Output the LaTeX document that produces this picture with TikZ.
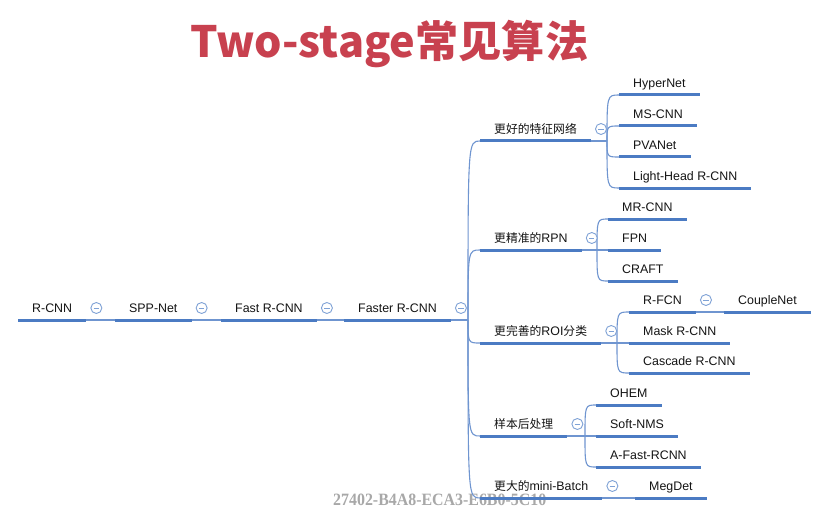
\documentclass[tikz,border=0pt]{standalone}
\usepackage{fontspec}
\setmainfont{Liberation Sans}
\newfontfamily\cjk{Noto Sans CJK SC}
\newfontfamily\wmfont{Liberation Serif}
\newcommand\zh[1]{{\cjk\fontsize{11.8}{14}\selectfont #1}}
\usetikzlibrary{calc}
\definecolor{barblue}{HTML}{4B7BC3}
\definecolor{linkblue}{HTML}{6F95D0}
\definecolor{btnblue}{HTML}{7FA2D6}
\definecolor{labeltext}{HTML}{141414}
\definecolor{titlered}{HTML}{C8414F}
\definecolor{wmgray}{HTML}{A8A8A8}
\begin{document}
\begin{tikzpicture}[x=1pt,y=-1pt,
  lbl/.style={anchor=south west, inner xsep=14pt, inner ysep=7.5pt, text height=9pt, text depth=0pt,
    font=\fontsize{12.4}{14}\selectfont, text=labeltext},
  bar/.style={draw=barblue, line width=3pt},
  link/.style={draw=linkblue, line width=1.1pt},
  btn/.style={circle, draw=btnblue, fill=white, line width=0.9pt, minimum size=11pt, inner sep=0pt,
    path picture={\draw[btnblue, line width=0.9pt] ([xshift=-2.7pt]path picture bounding box.center) -- ([xshift=2.7pt]path picture bounding box.center);}}]
\useasboundingbox (0,0) rectangle (822,508);
\fill[white] (0,0) rectangle (822,508);

% title
\node[anchor=base west, inner sep=0pt, text=titlered] (title) at (190,58)
  {\resizebox{398pt}{!}{\cjk\bfseries Two-stage常见算法}};

% watermark
\node[anchor=base west, inner sep=0pt, text=wmgray] (wm) at (333,505.5)
  {\resizebox{213pt}{11.5pt}{\wmfont\bfseries 27402-B4A8-ECA3-E6B0-5C10}};

% level 0
\node[lbl] (rcnn)   at (18,320)  {R-CNN};
\node[lbl] (spp)    at (115,320) {SPP-Net};
\node[lbl] (fast)   at (221,320) {Fast R-CNN};
\node[lbl] (faster) at (344,320) {Faster R-CNN};

% level 1
\node[lbl] (feat)  at (480,141) {\zh{更好的特征网络}};
\node[lbl] (rpn)   at (480,250) {\zh{更精准的}RPN};
\node[lbl] (roi)   at (480,343) {\zh{更完善的}ROI\zh{分类}};
\node[lbl] (post)  at (480,436) {\zh{样本后处理}};
\node[lbl] (batch) at (480,498) {\zh{更大的}mini-Batch};

% level 2
\node[lbl] (hyper)   at (619,95)  {HyperNet};
\node[lbl] (mscnn)   at (619,126) {MS-CNN};
\node[lbl] (pva)     at (619,157) {PVANet};
\node[lbl] (light)   at (619,188) {Light-Head R-CNN};
\node[lbl] (mrcnn)   at (608,219) {MR-CNN};
\node[lbl] (fpn)     at (608,250) {FPN};
\node[lbl] (craft)   at (608,281) {CRAFT};
\node[lbl] (rfcn)    at (629,312) {R-FCN};
\node[lbl] (mask)    at (629,343) {Mask R-CNN};
\node[lbl] (cascade) at (629,373) {Cascade R-CNN};
\node[lbl] (ohem)    at (596,405) {OHEM};
\node[lbl] (soft)    at (596,436) {Soft-NMS};
\node[lbl] (afast)   at (596,467) {A-Fast-RCNN};
\node[lbl] (megdet)  at (635,498) {MegDet};
\node[lbl] (couple)  at (724,312) {CoupleNet};

% fork points
\coordinate (f-faster) at (468,320);
\coordinate (f-feat)   at (607,141);
\coordinate (f-rpn)    at (597,250);
\coordinate (f-roi)    at (617,343);
\coordinate (f-post)   at (585,436);

% straight links
\draw[link] (rcnn.south east) -- (spp.south west);
\draw[link] (spp.south east) -- (fast.south west);
\draw[link] (fast.south east) -- (faster.south west);
\draw[link] (rfcn.south east) -- (couple.south west);
\draw[link] (batch.south east) -- (megdet.south west);

% curved links
\draw[link] (faster.south east) -- (f-faster);
\foreach \c in {feat,rpn,roi,post,batch}
  \draw[link] (f-faster) .. controls (f-faster |- \c.south west) .. (\c.south west);
\draw[link] (feat.south east) -- (f-feat);
\foreach \c in {hyper,mscnn,pva,light}
  \draw[link] (f-feat) .. controls (f-feat |- \c.south west) .. (\c.south west);
\draw[link] (rpn.south east) -- (f-rpn);
\foreach \c in {mrcnn,fpn,craft}
  \draw[link] (f-rpn) .. controls (f-rpn |- \c.south west) .. (\c.south west);
\draw[link] (roi.south east) -- (f-roi);
\foreach \c in {rfcn,mask,cascade}
  \draw[link] (f-roi) .. controls (f-roi |- \c.south west) .. (\c.south west);
\draw[link] (post.south east) -- (f-post);
\foreach \c in {ohem,soft,afast}
  \draw[link] (f-post) .. controls (f-post |- \c.south west) .. (\c.south west);

% bars
\foreach \n in {rcnn,spp,fast,faster,feat,rpn,roi,post,batch,hyper,mscnn,pva,light,mrcnn,fpn,craft,rfcn,mask,cascade,ohem,soft,afast,megdet,couple}
  \draw[bar] (\n.south west) -- (\n.south east);

% collapse buttons
\foreach \n in {rcnn,spp,fast,faster,feat,rpn,roi,post,batch,rfcn}
  \node[btn] (b-\n) at ($(\n.south east)+(10,-12)$) {};
\end{tikzpicture}
\end{document}
